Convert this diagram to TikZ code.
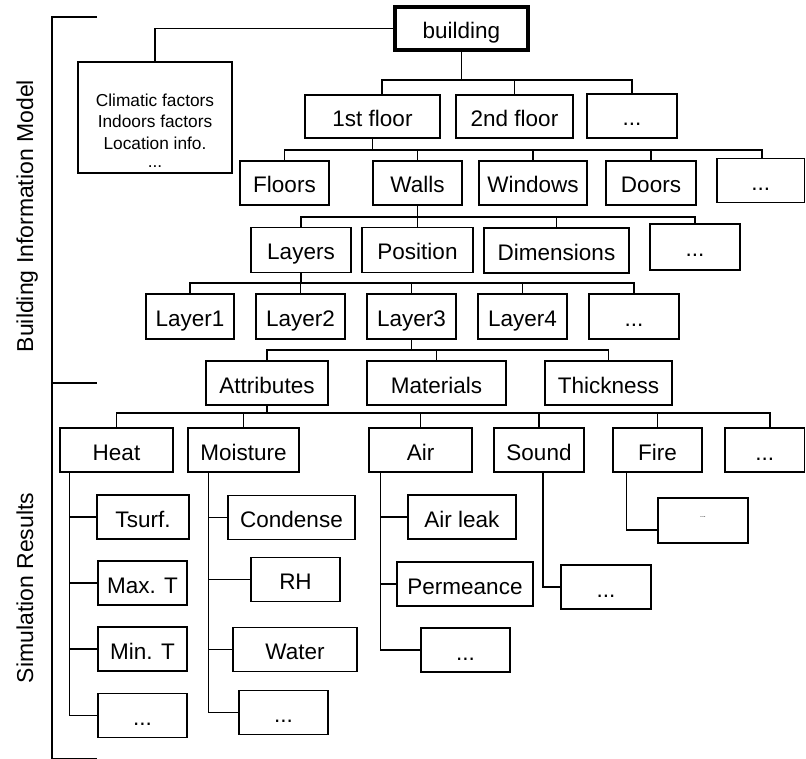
\documentclass[tikz,border=0pt]{standalone}
\usepackage{fontspec}
\setmainfont{Liberation Sans}
\begin{document}
\begin{tikzpicture}[x=1pt,y=-1pt,
  box/.style={draw, line width=1.7pt, inner sep=0pt, text height=20pt, text depth=0pt,
    font=\fontsize{22.5}{27}\selectfont, minimum height=44pt},
  link/.style={line width=1.3pt},
  side/.style={rotate=90, anchor=base, inner sep=0pt, font=\fontsize{23}{28}\selectfont},
]
\useasboundingbox (0,0) rectangle (806,759);

% side bracket with its two section labels
\coordinate (brtop) at (97,17);
\coordinate (brcorner) at (52,17);
\coordinate (brbottom) at (52,759);
\draw[link] (brtop) -- (brcorner) -- (brbottom);
\draw[link] (52,383) -- (97,383);
\draw[link] (52,758.5) -- (97,758.5);
\node[side] (bimlabel) at (33,216) {Building Information Model};
\node[side] (simlabel) at (33,588) {Simulation Results};

% root and context box
\node[box, line width=3.5pt, minimum width=133pt, minimum height=43pt] (bld) at (461.5,28.5) {building};
\node[box, minimum width=154pt, minimum height=111pt] (clim) at (155,117.5) {};
\node[anchor=base, align=center, inner sep=0pt, font=\fontsize{17.3}{21.5}\selectfont] (climtxt) at (155,168)
  {Climatic factors\\Indoors factors\\Location info.\\[-3pt]...};

% storeys
\node[box, minimum width=135pt, minimum height=43pt] (f1) at (372.5,116.5) {1st floor};
\node[box, minimum width=117pt, minimum height=43pt] (f2) at (514.5,116.5) {2nd floor};
\node[box, minimum width=90pt] (fdots) at (632,116) {...};

% building elements
\node[box, minimum width=89pt] (floors) at (284.5,183) {Floors};
\node[box, minimum width=89pt] (walls) at (417.5,183) {Walls};
\node[box, minimum width=108pt] (windows) at (533,183) {Windows};
\node[box, minimum width=90pt] (doors) at (651,183) {Doors};
\node[box, minimum width=87.5pt] (edots) at (760.75,180.5) {...};

% wall properties
\node[box, minimum width=100pt, minimum height=45pt] (layers) at (301,250) {Layers};
\node[box, minimum width=111pt, minimum height=45pt] (position) at (417.5,250) {Position};
\node[box, minimum width=145pt, minimum height=45pt] (dims) at (556.5,250.5) {Dimensions};
\node[box, minimum width=90pt, minimum height=46pt] (wdots) at (695,247) {...};

% layers
\node[box, minimum width=88pt, minimum height=45pt] (l1) at (190,316.5) {Layer1};
\node[box, minimum width=89pt, minimum height=45pt] (l2) at (300.5,316.5) {Layer2};
\node[box, minimum width=89pt, minimum height=45pt] (l3) at (411.5,316.5) {Layer3};
\node[box, minimum width=89pt, minimum height=45pt] (l4) at (522.5,316.5) {Layer4};
\node[box, minimum width=90pt, minimum height=45pt] (ldots) at (634,316.5) {...};

% layer properties
\node[box, minimum width=122pt] (attr) at (267,383) {Attributes};
\node[box, minimum width=139pt] (mat) at (436.5,383) {Materials};
\node[box, minimum width=127pt] (thick) at (608.5,383) {Thickness};

% attribute groups
\node[box, minimum width=113pt] (heat) at (116.5,450) {Heat};
\node[box, minimum width=111pt] (moist) at (243.5,450) {Moisture};
\node[box, minimum width=103pt] (air) at (420.5,450) {Air};
\node[box, minimum width=90pt] (sound) at (539,450) {Sound};
\node[box, minimum width=89pt] (fire) at (657.5,450) {Fire};
\node[box, minimum width=79.5pt] (adots) at (764.75,450) {...};

% heat results
\node[box, minimum width=92pt] (tsurf) at (143,517) {Tsurf.};
\node[box, minimum width=89pt] (tmax) at (142.5,583) {Max. T};
\node[box, minimum width=89pt] (tmin) at (142.5,649) {Min. T};
\node[box, minimum width=89pt] (hdots) at (142.5,715.5) {...};

% moisture results
\node[box, minimum width=127pt] (cond) at (291.5,517.5) {Condense};
\node[box, minimum width=89pt] (rh) at (295.5,579.5) {RH};
\node[box, minimum width=124pt] (water) at (295,649.5) {Water};
\node[box, minimum width=89pt] (mdots) at (283.5,712.5) {...};

% air results
\node[box, minimum width=108pt] (leak) at (462,517) {Air leak};
\node[box, minimum width=136pt] (perm) at (465,584) {Permeance};
\node[box, minimum width=89pt] (airdots) at (465.5,650) {...};

% sound and fire results
\node[box, minimum width=90pt] (sdots) at (606,587) {...};
\node[box, minimum width=90pt, minimum height=45pt, font=\fontsize{7}{8}\selectfont,
  text height=0pt, text depth=6pt] (firedots) at (703,520.5) {...};

% tree connectors: storeys
\coordinate (y1) at (0,80);
\draw[link] (bld.west) -| (clim.north);
\draw[link] (bld.south) -- (bld.south |- y1);
\draw[link] ([xshift=9.5pt]f1.north) |- (fdots.north |- y1) -- (fdots.north);
\draw[link] (f2.north) -- (f2.north |- y1);

% elements
\coordinate (y2) at (0,150);
\draw[link] (f1.south) -- (f1.south |- y2);
\draw[link] (floors.north) |- ([xshift=1.25pt]edots.north |- y2) -- ([xshift=1.25pt]edots.north);
\draw[link] (walls.north) -- (walls.north |- y2);
\draw[link] (windows.north) -- (windows.north |- y2);
\draw[link] (doors.north) -- (doors.north |- y2);

% wall properties
\coordinate (y3) at (0,217);
\draw[link] (walls.south) -- (walls.south |- y3);
\draw[link] (layers.north) |- (wdots.north |- y3) -- (wdots.north);
\draw[link] (position.north) -- (position.north |- y3);
\draw[link] (dims.north) -- (dims.north |- y3);

% layers
\coordinate (y4) at (0,283);
\draw[link] (layers.south) -- (layers.south |- y4);
\draw[link] (l1.north) |- (ldots.north |- y4) -- (ldots.north);
\draw[link] (l2.north) -- (l2.north |- y4);
\draw[link] (l3.north) -- (l3.north |- y4);
\draw[link] (l4.north) -- (l4.north |- y4);

% layer properties
\coordinate (y5) at (0,350);
\draw[link] (l3.south) -- (l3.south |- y5);
\draw[link] (attr.north) |- (thick.north |- y5) -- (thick.north);
\draw[link] (mat.north) -- (mat.north |- y5);

% attribute groups
\coordinate (y6) at (0,413);
\draw[link] (attr.south) -- (attr.south |- y6);
\draw[link] (heat.north) |- ([xshift=5.25pt]adots.north |- y6) -- ([xshift=5.25pt]adots.north);
\draw[link] (moist.north) -- (moist.north |- y6);
\draw[link] (air.north) -- (air.north |- y6);
\draw[link] (sound.north) -- (sound.north |- y6);
\draw[link] (fire.north) -- (fire.north |- y6);

% result lists
\coordinate (hx) at ([xshift=10pt]heat.south west);
\draw[link] (hx) |- (hdots.west);
\draw[link] (tsurf.west) -- (tsurf.west -| hx);
\draw[link] (tmax.west) -- (tmax.west -| hx);
\draw[link] (tmin.west) -- (tmin.west -| hx);

\coordinate (mx) at ([xshift=21pt]moist.south west);
\draw[link] (mx) |- (mdots.west);
\draw[link] (cond.west) -- (cond.west -| mx);
\draw[link] (rh.west) -- (rh.west -| mx);
\draw[link] (water.west) -- (water.west -| mx);

\coordinate (ax) at ([xshift=12pt]air.south west);
\draw[link] (ax) |- (airdots.west);
\draw[link] (leak.west) -- (leak.west -| ax);
\draw[link] (perm.west) -- (perm.west -| ax);

\draw[link] ([xshift=4pt]sound.south) |- (sdots.west);
\draw[link] ([xshift=14pt]fire.south west) |- ([yshift=-9.5pt]firedots.west);
\end{tikzpicture}
\end{document}
